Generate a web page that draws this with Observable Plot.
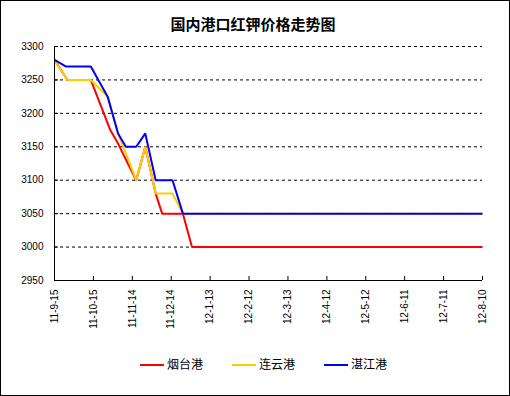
<!DOCTYPE html>
<html>
<head>
<meta charset="utf-8">
<script src="https://cdn.jsdelivr.net/npm/d3@7"></script>
<script src="https://cdn.jsdelivr.net/npm/@observablehq/plot@0.6"></script>
<style>
  html, body { margin: 0; padding: 0; background: #fff; }
  #wrap { position: relative; width: 510px; height: 396px; background: #fff; overflow: hidden; }
  #border { position: absolute; left: 0; top: 0; width: 510px; height: 396px; box-sizing: border-box; border: 1px solid #000; pointer-events: none; }
  #title { position: absolute; left: 0; top: 14px; width: 506px; text-align: center; font: bold 15px "Noto Sans CJK SC", sans-serif; line-height: 20px; color: #000; }
  #chart { position: absolute; left: 0; top: 0; }
  #legend { position: absolute; left: 0; top: 354px; width: 510px; height: 20px; }
  .item { position: absolute; top: 0; height: 20px; font: 12px "Noto Sans CJK SC", sans-serif; line-height: 20px; color: #000; }
  .sw { display: inline-block; width: 24px; height: 2px; vertical-align: middle; margin-right: 3px; position: relative; top: -1px; }
</style>
</head>
<body>
<div id="wrap">
  <div id="chart"></div>
  <div id="title">国内港口红钾价格走势图</div>
  <div id="legend"></div>
  <div id="border"></div>
</div>
<script>
// ---- data ----
const title = "国内港口红钾价格走势图";
const seriesNames = ["烟台港", "连云港", "湛江港"];
const seriesColors = ["#FF0000", "#FFCC00", "#0000FF"];

const yantaiDates = ["2011-09-15","2011-09-25","2011-10-13","2011-10-21","2011-10-28","2011-11-03","2011-11-08","2011-11-17","2011-11-24","2011-12-02","2011-12-07","2011-12-23","2011-12-30","2012-08-10"];
const yantaiValues = [3280, 3250, 3250, 3210, 3175, 3155, 3135, 3100, 3150, 3080, 3050, 3050, 3000, 3000];

const lianyunDates = ["2011-09-15","2011-09-25","2011-10-13","2011-10-26","2011-11-03","2011-11-17","2011-11-24","2011-12-02","2011-12-15","2011-12-23","2012-08-10"];
const lianyunValues = [3280, 3250, 3250, 3225, 3170, 3100, 3150, 3080, 3080, 3050, 3050];

const zhanjiangDates = ["2011-09-15","2011-09-24","2011-10-13","2011-10-26","2011-11-03","2011-11-09","2011-11-17","2011-11-24","2011-12-02","2011-12-15","2011-12-23","2012-08-10"];
const zhanjiangValues = [3280, 3270, 3270, 3225, 3170, 3150, 3150, 3170, 3100, 3100, 3050, 3050];

const xTickLabels = ["2011-09-15","2011-10-15","2011-11-14","2011-12-14","2012-01-13","2012-02-12","2012-03-13","2012-04-12","2012-05-12","2012-06-11","2012-07-11","2012-08-10"];
const yTicks = [2950, 3000, 3050, 3100, 3150, 3200, 3250, 3300];
const yGrid = [3000, 3050, 3100, 3150, 3200, 3250, 3300];

// ---- build ----
const parse = d3.utcParse("%Y-%m-%d");
function rows(dates, values, name) {
  return dates.map((d, i) => ({date: parse(d), value: values[i], series: name}));
}
const all = [
  ...rows(yantaiDates, yantaiValues, seriesNames[0]),
  ...rows(lianyunDates, lianyunValues, seriesNames[1]),
  ...rows(zhanjiangDates, zhanjiangValues, seriesNames[2])
];
const xTicks = xTickLabels.map(parse);
const fmt = d => `${String(d.getUTCFullYear()).slice(2)}-${d.getUTCMonth() + 1}-${d.getUTCDate()}`;

const chart = Plot.plot({
  width: 510,
  height: 340,
  marginLeft: 54,
  marginRight: 28,
  marginTop: 46,
  marginBottom: 60,
  style: {fontFamily: "'Liberation Sans', Arial, sans-serif", fontSize: "10px", color: "#000", background: "transparent"},
  x: {type: "utc", domain: [xTicks[0], xTicks[xTicks.length - 1]]},
  y: {domain: [2950, 3300]},
  color: {domain: seriesNames, range: seriesColors},
  marks: [
    Plot.ruleY(yGrid, {stroke: "#000", strokeDasharray: "3,3", strokeWidth: 1}),
    Plot.line(all, {x: "date", y: "value", z: "series", stroke: "series", strokeWidth: 2, strokeLinejoin: "miter", strokeLinecap: "butt"}),
    Plot.ruleY([2950], {stroke: "#000"}),
    Plot.ruleX([xTicks[0]], {stroke: "#000"}),
    Plot.axisY({ticks: yTicks, tickSize: -4, tickPadding: 15, label: null, stroke: "#000", tickFormat: d => String(d)}),
    Plot.axisX({ticks: xTicks, tickSize: -4, tickPadding: 13, tickRotate: -90, label: null, tickFormat: fmt})
  ]
});
document.getElementById("chart").appendChild(chart);

// ---- legend ----
const legend = document.getElementById("legend");
const lefts = [140, 232, 324];
seriesNames.forEach((n, i) => {
  const it = document.createElement("div");
  it.className = "item";
  it.style.left = lefts[i] + "px";
  it.innerHTML = `<span class="sw" style="background:${seriesColors[i]}"></span>${n}`;
  legend.appendChild(it);
});
</script>
</body>
</html>
